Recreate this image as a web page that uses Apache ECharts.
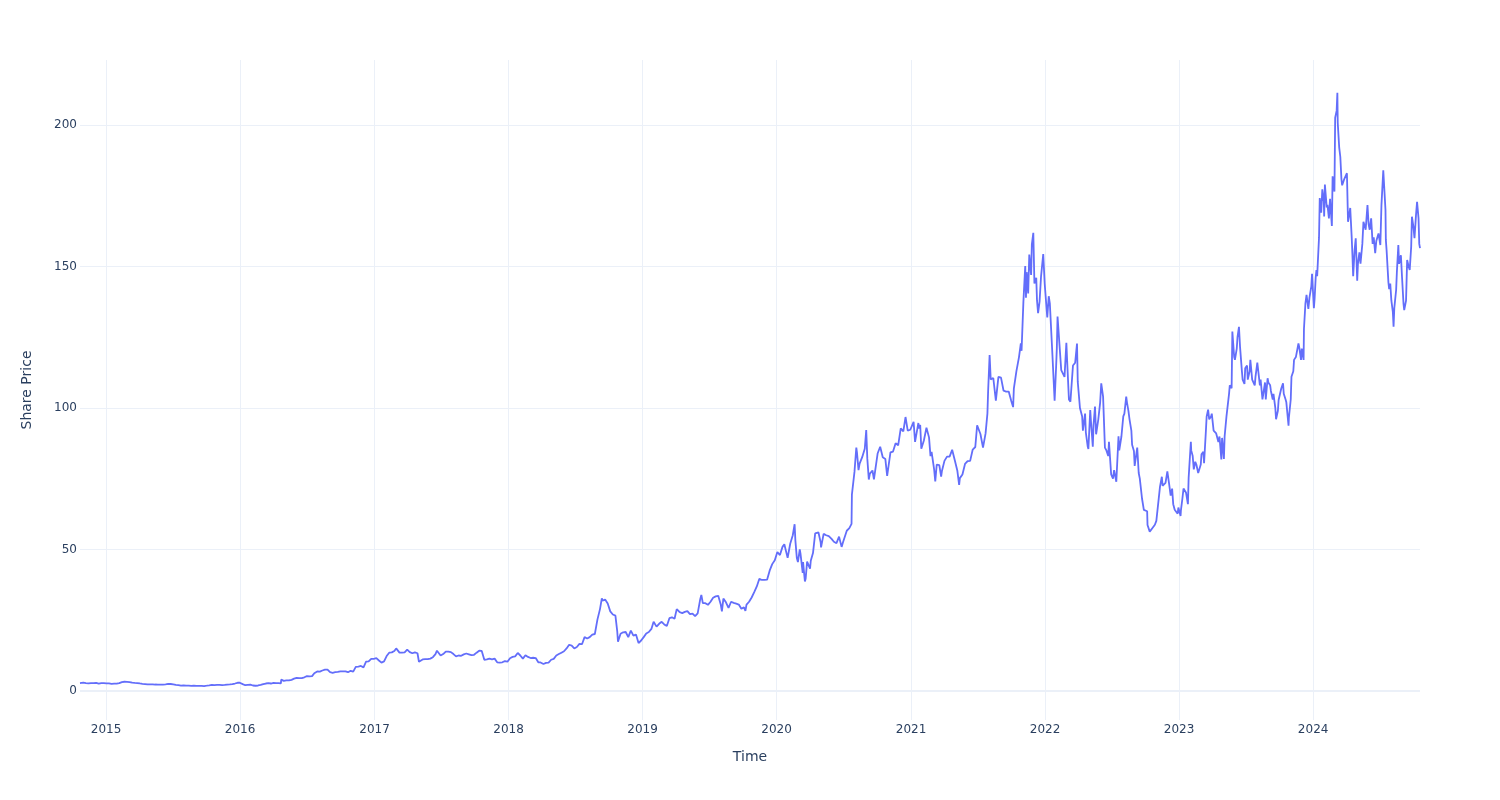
<!DOCTYPE html>
<html>
<head>
<meta charset="utf-8">
<script src="https://cdn.jsdelivr.net/npm/echarts@6/dist/echarts.min.js"></script>
<style>
html,body{margin:0;padding:0;background:#fff;}
#chart{width:1500px;height:800px;}
</style>
</head>
<body>
<div id="chart"></div>
<script>
// Share price readings [MM-DD, price] grouped by year
const p2014 = [['10-22',2.72],['10-24',2.78],['10-31',2.88],['11-07',2.72],['11-14',2.66],['11-21',2.75],['11-28',2.75],['12-05',2.80],['12-12',2.58],['12-19',2.75],['12-26',2.72]];
const p2015 = [['01-02',2.67],['01-09',2.63],['01-16',2.49],['01-23',2.55],['01-30',2.57],['02-06',2.72],['02-13',3.10],['02-20',3.22],['02-27',3.18],['03-06',3.10],['03-13',2.88],['03-20',2.82],['03-27',2.77],['04-03',2.62],['04-10',2.50],['04-17',2.40],['04-24',2.30],['05-01',2.30],['05-08',2.32],['05-15',2.24],['05-22',2.22],['05-29',2.18],['06-05',2.20],['06-12',2.32],['06-19',2.45],['06-26',2.42],['07-03',2.32],['07-10',2.15],['07-17',2.00],['07-24',1.85],['07-31',1.90],['08-07',1.82],['08-14',1.85],['08-21',1.75],['08-28',1.80],['09-04',1.76],['09-11',1.74],['09-18',1.78],['09-25',1.70],['10-02',1.82],['10-09',1.95],['10-16',2.10],['10-23',2.05],['10-30',2.12],['11-06',2.12],['11-13',2.02],['11-20',2.10],['11-27',2.22],['12-04',2.30],['12-11',2.40],['12-18',2.60],['12-25',2.86],['12-31',2.87]];
const p2016 = [['01-08',2.40],['01-15',2.00],['01-22',2.10],['01-29',2.20],['02-05',1.90],['02-12',1.80],['02-19',1.90],['02-26',2.10],['03-04',2.40],['03-11',2.60],['03-18',2.75],['03-25',2.60],['04-01',2.80],['04-08',2.70],['04-15',2.70],['04-21',2.62],['04-22',3.99],['04-29',3.55],['05-06',3.70],['05-13',3.70],['05-20',3.90],['05-27',4.30],['06-03',4.60],['06-10',4.50],['06-17',4.50],['06-24',4.80],['07-01',5.20],['07-08',5.10],['07-15',5.20],['07-21',6.21],['07-29',6.86],['08-05',6.80],['08-12',7.20],['08-19',7.50],['08-26',7.50],['09-02',6.60],['09-09',6.40],['09-16',6.60],['09-23',6.70],['09-30',6.90],['10-07',6.90],['10-14',6.90],['10-21',6.60],['10-28',7.10],['11-04',6.80],['11-11',8.50],['11-18',8.60],['11-25',8.80],['12-02',8.30],['12-09',10.30],['12-16',10.40],['12-23',11.30],['12-30',11.34]];
const p2017 = [['01-06',11.55],['01-13',10.75],['01-20',10.00],['01-27',10.40],['02-03',12.30],['02-10',13.50],['02-17',13.60],['02-24',14.10],['03-01',15.00],['03-03',14.40],['03-10',13.50],['03-17',13.50],['03-24',13.60],['03-31',14.55],['04-07',13.70],['04-14',13.30],['04-21',13.60],['04-28',13.30],['05-02',10.30],['05-05',10.30],['05-12',11.10],['05-19',11.20],['05-26',11.20],['06-02',11.40],['06-09',11.90],['06-16',13.00],['06-20',14.20],['06-23',13.90],['06-30',12.50],['07-07',13.00],['07-14',13.90],['07-21',13.90],['07-28',13.70],['08-04',13.00],['08-11',12.20],['08-18',12.50],['08-25',12.40],['09-01',12.90],['09-08',13.20],['09-15',12.90],['09-22',12.60],['09-29',12.75],['10-06',13.50],['10-13',14.20],['10-20',14.10],['10-27',10.97],['11-03',11.10],['11-10',11.40],['11-17',11.10],['11-24',11.40],['12-01',10.10],['12-08',10.00],['12-15',10.10],['12-22',10.50],['12-29',10.30]];
const p2018 = [['01-05',11.55],['01-12',12.00],['01-19',12.20],['01-26',13.40],['02-02',12.50],['02-09',11.40],['02-16',12.60],['02-23',12.00],['03-02',11.60],['03-09',11.70],['03-16',11.60],['03-23',10.10],['03-29',10.05],['04-06',9.50],['04-13',9.90],['04-20',10.00],['04-27',11.00],['05-04',11.30],['05-11',12.50],['05-18',13.00],['05-25',13.50],['06-01',14.00],['06-08',15.00],['06-15',16.30],['06-22',16.00],['06-29',15.00],['07-06',15.50],['07-13',16.60],['07-20',16.50],['07-27',19.00],['08-03',18.50],['08-10',19.00],['08-17',19.90],['08-24',20.10],['08-31',25.17],['09-07',28.90],['09-12',32.70],['09-14',31.90],['09-21',32.30],['09-28',30.90],['10-05',28.10],['10-12',27.00],['10-19',26.60],['10-24',21.00],['10-26',17.40],['11-02',20.20],['11-09',20.70],['11-16',20.80],['11-23',19.00],['11-30',21.30],['12-07',19.50],['12-14',19.90],['12-21',16.90],['12-28',17.80]];
const p2019 = [['01-04',19.00],['01-11',20.30],['01-18',20.80],['01-25',21.90],['01-31',24.41],['02-08',22.70],['02-15',23.70],['02-22',24.40],['03-01',23.50],['03-08',22.90],['03-15',25.70],['03-22',26.00],['03-29',25.50],['04-04',28.90],['04-12',27.80],['04-19',27.50],['04-26',27.90],['05-03',28.20],['05-10',27.10],['05-17',27.30],['05-24',26.40],['05-31',27.40],['06-07',32.40],['06-10',33.90],['06-14',31.00],['06-21',31.00],['06-28',30.40],['07-05',31.50],['07-12',32.90],['07-19',33.40],['07-26',33.60],['08-02',30.40],['08-05',28.10],['08-09',32.60],['08-16',31.30],['08-23',29.30],['08-30',31.50],['09-06',31.10],['09-13',30.80],['09-20',30.50],['09-27',29.00],['10-04',29.50],['10-08',28.30],['10-11',30.50],['10-18',31.50],['10-25',33.00],['11-01',34.90],['11-08',36.90],['11-15',39.60],['11-22',39.20],['11-29',39.20],['12-06',39.30],['12-13',42.50],['12-20',44.80],['12-27',46.20]];
const p2020 = [['01-03',49.10],['01-10',48.00],['01-17',50.90],['01-22',51.80],['01-24',51.20],['01-31',47.00],['02-07',52.00],['02-14',55.00],['02-19',58.90],['02-21',53.30],['02-25',47.00],['02-28',45.50],['03-04',50.00],['03-06',48.50],['03-12',41.70],['03-13',45.50],['03-18',38.70],['03-20',39.60],['03-24',45.70],['03-27',46.00],['04-01',43.20],['04-03',46.00],['04-09',48.70],['04-15',55.70],['04-17',56.20],['04-24',56.00],['04-30',52.40],['05-01',50.70],['05-08',55.50],['05-15',55.00],['05-22',54.70],['05-29',53.80],['06-05',52.70],['06-12',52.20],['06-19',54.50],['06-26',50.90],['06-30',52.60],['07-03',53.30],['07-10',56.60],['07-17',57.50],['07-23',59.00],['07-24',69.40],['07-31',77.40],['08-05',86.00],['08-07',84.00],['08-11',78.00],['08-14',80.30],['08-21',82.60],['08-28',85.60],['09-01',92.20],['09-04',82.00],['09-08',74.70],['09-11',76.80],['09-18',77.90],['09-22',74.80],['09-25',77.50],['10-02',83.90],['10-09',86.30],['10-16',82.60],['10-23',82.00],['10-28',76.00],['10-30',75.30],['11-06',84.30],['11-13',84.60],['11-20',87.50],['11-27',86.80],['12-04',92.80],['12-11',91.70],['12-17',96.80],['12-18',96.60],['12-23',92.00],['12-30',92.30]];
const p2021 = [['01-04',92.30],['01-08',95.10],['01-12',88.00],['01-15',88.20],['01-21',94.70],['01-22',92.80],['01-26',94.00],['01-29',85.60],['02-05',88.50],['02-12',93.00],['02-19',89.60],['02-23',83.00],['02-26',84.50],['03-05',78.20],['03-08',74.00],['03-12',80.00],['03-19',79.80],['03-24',75.70],['03-26',77.60],['04-02',81.30],['04-09',82.80],['04-16',82.80],['04-23',85.20],['04-30',81.60],['05-07',77.90],['05-12',72.80],['05-14',75.20],['05-21',76.50],['05-28',80.20],['06-04',81.20],['06-11',81.30],['06-18',85.30],['06-25',86.20],['06-30',93.90],['07-02',94.20],['07-09',90.80],['07-16',86.00],['07-23',91.00],['07-28',98.00],['07-30',106.20],['08-03',118.70],['08-06',110.10],['08-13',110.60],['08-20',102.60],['08-27',111.00],['09-03',110.70],['09-10',106.10],['09-17',105.80],['09-24',105.80],['10-01',102.50],['10-06',100.30],['10-08',106.80],['10-15',113.00],['10-22',118.00],['10-27',122.80],['10-29',120.20],['11-03',137.50],['11-05',137.50],['11-08',150.20],['11-10',139.00],['11-12',148.00],['11-16',140.50],['11-19',154.20],['11-24',147.00],['11-26',157.80],['11-30',161.90],['12-03',144.00],['12-08',146.00],['12-10',138.10],['12-13',133.50],['12-17',137.60],['12-21',146.40],['12-27',154.40],['12-31',143.90]];
const p2022 = [['01-04',137.0],['01-07',132.0],['01-11',139.5],['01-14',137.0],['01-19',124.0],['01-21',118.8],['01-27',102.6],['01-31',114.3],['02-02',121.0],['02-04',132.3],['02-09',132.0],['02-14',113.4],['02-18',113.6],['02-23',111.0],['02-28',123.0],['03-02',117.0],['03-07',103.0],['03-11',102.2],['03-18',115.0],['03-24',116.0],['03-29',122.8],['03-31',109.3],['04-06',100.0],['04-12',97.0],['04-14',92.0],['04-20',98.0],['04-22',91.4],['04-27',86.5],['04-29',85.5],['05-04',99.3],['05-06',95.2],['05-11',86.3],['05-13',94.0],['05-17',100.5],['05-20',90.7],['05-26',96.0],['05-31',101.9],['06-03',108.7],['06-08',104.0],['06-13',86.0],['06-17',85.0],['06-22',83.0],['06-24',88.0],['06-30',76.5],['07-05',75.0],['07-08',78.0],['07-14',73.9],['07-20',90.0],['07-22',85.0],['07-28',90.0],['08-02',97.0],['08-05',98.0],['08-10',104.0],['08-12',102.0],['08-16',99.0],['08-19',96.0],['08-24',92.0],['08-26',87.0],['08-31',84.8],['09-02',79.5],['09-09',86.0],['09-13',77.0],['09-16',75.0],['09-22',68.0],['09-27',64.0],['09-30',63.4],['10-06',63.5],['10-07',58.6],['10-13',56.3],['10-14',56.4],['10-20',57.5],['10-27',58.7],['10-31',60.1],['11-04',60.5],['11-10',72.2],['11-15',75.7],['11-17',72.5],['11-22',73.0],['11-25',73.5],['11-30',77.6],['12-05',73.0],['12-09',69.0],['12-13',71.5],['12-16',66.0],['12-20',64.0],['12-23',64.5],['12-28',62.6],['12-30',64.8]];
const p2023 = [['01-05',61.8],['01-06',63.9],['01-10',68.0],['01-13',71.5],['01-18',72.0],['01-20',70.0],['01-25',66.0],['01-27',75.4],['02-02',88.0],['02-03',85.0],['02-07',83.0],['02-10',78.3],['02-14',81.0],['02-17',80.0],['02-22',77.0],['02-24',77.4],['03-01',80.0],['03-03',83.6],['03-08',84.5],['03-10',80.5],['03-15',92.0],['03-17',97.0],['03-21',99.4],['03-24',96.0],['03-29',97.0],['03-31',98.0],['04-05',92.0],['04-12',91.0],['04-18',88.0],['04-21',89.9],['04-26',81.8],['04-28',89.4],['05-03',82.0],['05-05',90.0],['05-10',97.0],['05-12',97.0],['05-17',105.0],['05-19',108.0],['05-24',107.0],['05-26',127.0],['05-31',118.0],['06-02',117.0],['06-07',121.0],['06-09',125.0],['06-13',128.7],['06-16',121.5],['06-21',113.0],['06-23',110.0],['06-28',108.5],['06-30',114.0],['07-05',115.0],['07-07',110.0],['07-12',113.0],['07-14',117.0],['07-19',110.0],['07-21',110.0],['07-26',108.0],['07-28',111.0],['08-02',116.0],['08-04',115.8],['08-09',108.0],['08-11',110.0],['08-16',103.0],['08-18',103.0],['08-23',109.0],['08-25',103.0],['08-30',110.5],['09-01',109.0],['09-06',108.0],['09-08',106.0],['09-13',103.0],['09-15',105.0],['09-20',100.0],['09-22',96.0],['09-27',99.0],['09-29',102.8],['10-04',103.0],['10-06',106.8],['10-11',108.7],['10-13',105.0],['10-18',103.0],['10-20',102.0],['10-26',93.7],['10-27',96.6],['11-01',103.0],['11-03',111.0],['11-08',113.0],['11-10',117.0],['11-15',118.0],['11-17',118.0],['11-22',122.8],['11-24',121.6],['11-29',117.0],['12-01',121.0],['12-06',117.0],['12-07',128.0],['12-11',137.0],['12-14',140.0],['12-19',135.0],['12-22',139.0],['12-27',143.0],['12-29',147.4]];
const p2024 = [['01-03',135.3],['01-05',138.6],['01-08',146.2],['01-10',148.7],['01-12',146.6],['01-17',160.2],['01-19',174.2],['01-23',169.0],['01-26',177.3],['01-30',173.0],['01-31',167.7],['02-02',179.0],['02-07',170.9],['02-09',171.8],['02-13',167.0],['02-16',173.9],['02-21',164.3],['02-23',181.9],['02-28',176.5],['03-01',202.6],['03-05',205.1],['03-07',211.4],['03-08',200.8],['03-12',192.0],['03-15',188.8],['03-18',181.0],['03-20',178.7],['03-22',178.0],['03-26',181.0],['03-28',180.5],['04-02',183.0],['04-05',165.8],['04-09',169.0],['04-11',170.7],['04-15',160.3],['04-17',154.0],['04-19',146.6],['04-23',156.0],['04-26',160.0],['04-30',145.0],['05-02',151.0],['05-06',155.0],['05-09',151.0],['05-14',158.0],['05-17',165.8],['05-21',166.0],['05-23',163.0],['05-28',171.7],['05-31',165.0],['06-03',163.0],['06-07',167.0],['06-11',158.0],['06-14',160.3],['06-18',154.7],['06-21',159.0],['06-27',161.7],['07-02',157.6],['07-05',171.6],['07-10',184.0],['07-12',179.3],['07-16',170.0],['07-17',159.4],['07-19',155.8],['07-24',144.4],['07-26',142.0],['07-29',144.0],['08-01',138.0],['08-05',134.0],['08-07',128.7],['08-09',135.3],['08-14',141.7],['08-16',148.0],['08-20',157.6],['08-22',151.0],['08-27',154.0],['08-30',146.4],['09-03',137.0],['09-05',134.6],['09-10',138.0],['09-13',152.3],['09-17',150.0],['09-20',148.8],['09-24',157.0],['09-26',167.6],['09-30',164.1],['10-03',160.0],['10-07',168.0],['10-10',172.9],['10-14',167.0],['10-16',158.0],['10-18',156.5]];

const years = [2014,2015,2016,2017,2018,2019,2020,2021,2022,2023,2024];
const byYear = [p2014,p2015,p2016,p2017,p2018,p2019,p2020,p2021,p2022,p2023,p2024];

const data = [];
byYear.forEach((arr, i) => arr.forEach(([md, v]) => data.push([years[i] + '-' + md, v])));

const axisColor = '#2a3f5f';
const gridColor = '#ebf0f8';
const font = 'DejaVu Sans';

const chart = echarts.init(document.getElementById('chart'), null, {renderer: 'canvas'});
chart.setOption({
  animation: false,
  backgroundColor: '#ffffff',
  grid: {left: 80, right: 80, top: 60, bottom: 80, containLabel: false},
  xAxis: {
    type: 'time',
    min: data[0][0],
    max: data[data.length - 1][0],
    minInterval: 365 * 24 * 3600 * 1000,
    maxInterval: 366 * 24 * 3600 * 1000,
    name: 'Time',
    nameLocation: 'middle',
    nameGap: 30,
    nameTextStyle: {color: axisColor, fontSize: 14, fontFamily: font},
    axisLine: {show: false},
    axisTick: {show: false},
    axisLabel: {
      color: axisColor, fontSize: 12, fontFamily: font, margin: 4,
      showMinLabel: false, showMaxLabel: false,
      formatter: function (val) {
        const d = new Date(val);
        if (d.getMonth() === 0 && d.getDate() === 1) return String(d.getFullYear());
        return '';
      }
    },
    splitLine: {show: true, showMinLine: false, showMaxLine: false, lineStyle: {color: gridColor, width: 1}}
  },
  yAxis: {
    type: 'value',
    min: -10.3,
    max: 223,
    splitNumber: 5,
    name: 'Share Price',
    nameLocation: 'middle',
    nameGap: 46,
    nameTextStyle: {color: axisColor, fontSize: 14, fontFamily: font},
    axisLine: {show: false},
    axisTick: {show: false},
    axisLabel: {color: axisColor, fontSize: 12, fontFamily: font, margin: 3, padding: [5, 0, 0, 0], showMinLabel: false, showMaxLabel: false},
    splitLine: {show: true, showMinLine: false, showMaxLine: false, lineStyle: {color: gridColor, width: 1}}
  },
  series: [{
    type: 'line',
    data: data,
    showSymbol: false,
    symbol: 'none',
    lineStyle: {color: '#636efa', width: 1.8},
    itemStyle: {color: '#636efa'},
    z: 3,
    markLine: {
      silent: true,
      symbol: 'none',
      label: {show: false},
      lineStyle: {color: gridColor, width: 2, type: 'solid'},
      emphasis: {disabled: true},
      data: [{yAxis: 0}],
      z: 1
    }
  }]
});
</script>
</body>
</html>
